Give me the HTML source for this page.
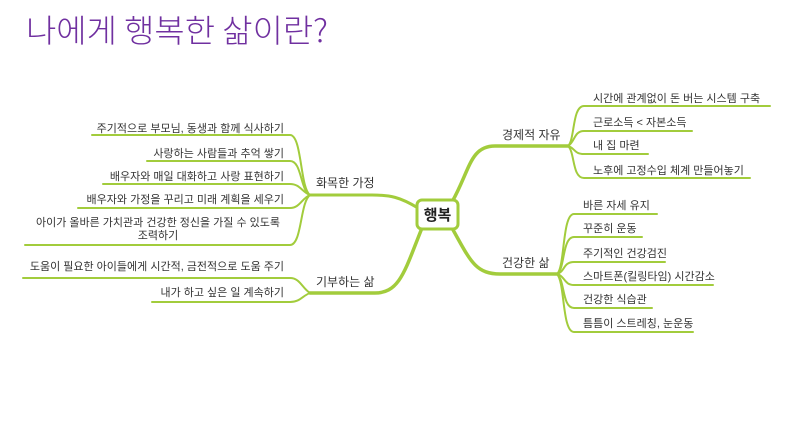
<!DOCTYPE html>
<html><head><meta charset="utf-8"><style>
html,body{margin:0;padding:0;background:#fff;width:791px;height:445px;overflow:hidden}
svg{display:block}
text{font-family:"Liberation Sans","Noto Sans CJK KR",sans-serif;fill:#333;font-size:11px}
</style></head><body>
<svg width="791" height="445" viewBox="0 0 791 445" xmlns="http://www.w3.org/2000/svg">
<text x="26" y="42" style="font-size:32px;fill:#7030a0;font-weight:300;font-family:'Noto Sans CJK KR',sans-serif" textLength="302" lengthAdjust="spacingAndGlyphs">나에게 행복한 삶이란?</text>
<g fill="none" stroke="#a2cc3c" stroke-linecap="round">
<path d="M452 202 C470 170 470 146 495 146 L568 146" stroke-width="3.5"/>
<path d="M452 228 C470 260 475 274 500 274 L557 274" stroke-width="3.5"/>
<path d="M418 208 C400 197 390 195 372 195 L310 195" stroke-width="3"/>
<path d="M422 228 C405 270 400 293 375 293 L310 293" stroke-width="3.5"/>
<g stroke-width="2">
<path d="M568 146 C575 140 572 106 584 106 L770 106"/>
<path d="M568 146 C575 142 574 131 584 131 L692 131"/>
<path d="M568 146 C575 148 574 154 584 154 L648 154"/>
<path d="M568 146 C575 152 572 178 584 178 L750 178"/>
<path d="M557 274 C565 268 562 214 574 214 L657 214"/>
<path d="M557 274 C565 270 562 237 574 237 L642 237"/>
<path d="M557 274 C565 272 563 262 574 262 L665 262"/>
<path d="M557 274 C565 276 564 285 574 285 L713 285"/>
<path d="M557 274 C565 280 562 308 574 308 L652 308"/>
<path d="M557 274 C565 282 562 332 574 332 L693 332"/>
<path d="M310 195 C300 188 302 135 290 135 L92 135"/>
<path d="M310 195 C300 190 302 161 290 161 L147 161"/>
<path d="M310 195 C302 192 300 184 290 184 L103 184"/>
<path d="M310 195 C302 198 300 208 290 208 L78 208"/>
<path d="M310 195 C300 202 302 245 290 245 L25 245"/>
<path d="M310 293 C302 288 300 278 290 278 L23 278"/>
<path d="M310 293 C302 296 300 302 290 302 L152 302"/>
</g>
</g>
<rect x="417" y="200" width="41" height="29" rx="5" fill="#fff" stroke="#a2cc3c" stroke-width="3"/>
<text x="437.5" y="220" text-anchor="middle" style="font-size:15px;font-weight:bold;fill:#222">행복</text>
<text x="502" y="139" style="font-size:12px">경제적 자유</text>
<text x="502" y="267" style="font-size:12px">건강한 삶</text>
<text x="316" y="187" style="font-size:12px">화목한 가정</text>
<text x="316" y="286" style="font-size:12px">기부하는 삶</text>
<text x="593" y="102">시간에 관계없이 돈 버는 시스템 구축</text>
<text x="593" y="126">근로소득 &lt; 자본소득</text>
<text x="593" y="149">내 집 마련</text>
<text x="593" y="174">노후에 고정수입 체계 만들어놓기</text>
<text x="583" y="209">바른 자세 유지</text>
<text x="583" y="232">꾸준히 운동</text>
<text x="583" y="257">주기적인 건강검진</text>
<text x="583" y="280">스마트폰(킬링타임) 시간감소</text>
<text x="583" y="303">건강한 식습관</text>
<text x="583" y="327">틈틈이 스트레칭, 눈운동</text>
<g text-anchor="end">
<text x="284" y="132">주기적으로 부모님, 동생과 함께 식사하기</text>
<text x="284" y="157">사랑하는 사람들과 추억 쌓기</text>
<text x="284" y="180">배우자와 매일 대화하고 사랑 표현하기</text>
<text x="284" y="203">배우자와 가정을 꾸리고 미래 계획을 세우기</text>
<text x="284" y="270">도움이 필요한 아이들에게 시간적, 금전적으로 도움 주기</text>
<text x="284" y="296">내가 하고 싶은 일 계속하기</text>
</g>
<text x="158" y="226" text-anchor="middle">아이가 올바른 가치관과 건강한 정신을 가질 수 있도록</text>
<text x="158" y="239" text-anchor="middle">조력하기</text>
</svg>
</body></html>
